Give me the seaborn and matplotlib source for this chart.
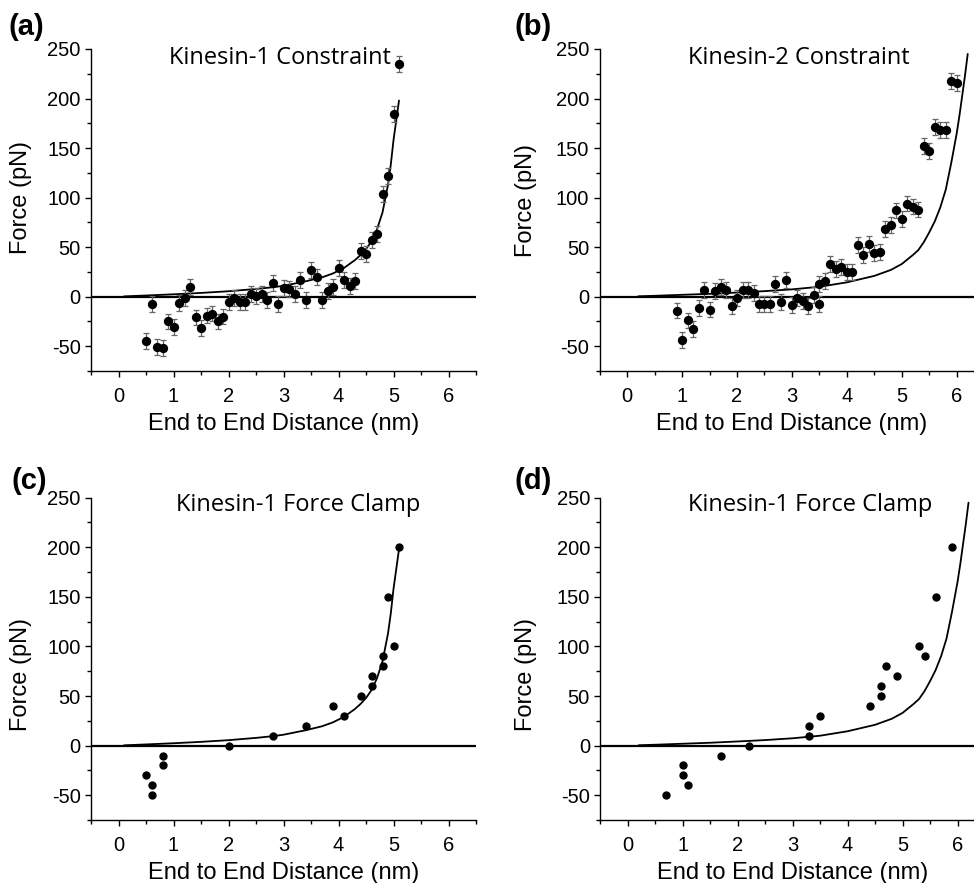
import numpy as np
import pandas as pd
import matplotlib
matplotlib.use("Agg")
import matplotlib.pyplot as plt
from matplotlib.ticker import MultipleLocator
import seaborn as sns

# === data ==================================================================
# (a) Kinesin-1 constraint
k1c_x = [0.5, 0.6, 0.7, 0.8, 0.9, 1.0, 1.1, 1.2, 1.3, 1.4, 1.5, 1.6, 1.7, 1.8, 1.9,
         2.0, 2.1, 2.2, 2.3, 2.4, 2.5, 2.6, 2.7, 2.8, 2.9, 3.0, 3.1, 3.2, 3.3, 3.4,
         3.5, 3.6, 3.7, 3.8, 3.9, 4.0, 4.1, 4.2, 4.3, 4.4, 4.5, 4.6, 4.7, 4.8, 4.9,
         5.0, 5.1]
k1c_y = [-45, -7, -51, -52, -25, -31, -6, -1, 10, -21, -32, -19, -17, -25, -20,
         -5, -1, -5, -5, 3, 1, 3, -3, 14, -7, 9, 8, 3, 17, -3,
         27, 20, -3, 6, 10, 29, 17, 11, 16, 46, 43, 57, 63, 104, 122,
         184, 235]

# (b) Kinesin-2 constraint
k2c_x = [0.9, 1.0, 1.1, 1.2, 1.3, 1.4, 1.5, 1.6, 1.7, 1.8, 1.9, 2.0, 2.1, 2.2, 2.3,
         2.4, 2.5, 2.6, 2.7, 2.8, 2.9, 3.0, 3.1, 3.2, 3.3, 3.4, 3.5, 3.5, 3.6, 3.7,
         3.8, 3.9, 4.0, 4.1, 4.2, 4.3, 4.4, 4.5, 4.6, 4.7, 4.8, 4.9, 5.0, 5.1, 5.2,
         5.3, 5.4, 5.5, 5.6, 5.7, 5.8, 5.9, 6.0]
k2c_y = [-14, -44, -24, -33, -11, 7, -13, 6, 10, 7, -9, -1, 7, 7, 4,
         -7, -7, -7, 13, -5, 17, -8, -1, -4, -9, 2, -7, 13, 16, 33,
         28, 30, 25, 25, 52, 42, 53, 44, 45, 68, 72, 87, 78, 94, 91,
         88, 152, 147, 171, 168, 168, 218, 216]
err = 8

# (c) Kinesin-1 force clamp, first set
k1f_x = [0.5, 0.6, 0.6, 0.8, 0.8, 2.0, 2.8, 3.4, 3.9, 4.1, 4.4, 4.6, 4.6, 4.8, 4.8,
         5.0, 4.9, 5.1]
k1f_y = [-30, -40, -50, -10, -20, 0, 10, 20, 40, 30, 50, 60, 70, 80, 90,
         100, 150, 200]

# (d) Kinesin-1 force clamp, second set
k1g_x = [0.7, 1.0, 1.0, 1.1, 1.7, 2.2, 3.3, 3.3, 3.5, 4.4, 4.6, 4.6, 4.7, 4.9, 5.3,
         5.4, 5.6, 5.9]
k1g_y = [-50, -20, -30, -40, -10, 0, 10, 20, 30, 40, 50, 60, 80, 70, 100,
         90, 150, 200]

# model curves
fit1_x = [0.1, 0.5, 1.0, 1.5, 2.0, 2.5, 2.8, 3.0, 3.4, 3.7, 3.9, 4.1, 4.3, 4.4,
          4.5, 4.6, 4.7, 4.8, 4.9, 4.95, 5.0, 5.05, 5.1]
fit1_y = [0.3, 1.2, 2.4, 3.8, 5.5, 7.8, 9.5, 11, 15.5, 19.5, 23.5, 29, 37, 42,
          48, 56, 68, 85, 113, 133, 158, 178, 198]
fit2_x = [0.2, 0.5, 1.0, 1.5, 2.0, 2.5, 3.0, 3.5, 4.0, 4.5, 4.8, 5.0, 5.2, 5.3,
          5.4, 5.5, 5.6, 5.7, 5.8, 5.9, 5.95, 6.0, 6.05, 6.1, 6.15, 6.2]
fit2_y = [0.4, 0.9, 1.9, 2.9, 4.2, 5.6, 7.4, 10, 14.5, 21, 27, 33, 42, 47,
          55, 65, 76, 90, 108, 135, 150, 165, 183, 203, 223, 245]

titles = ["Kinesin-1 Constraint", "Kinesin-2 Constraint",
          "Kinesin-1 Force Clamp", "Kinesin-1 Force Clamp"]
letters = ["(a)", "(b)", "(c)", "(d)"]

# === style ==================================================================
sns.set_style("ticks")
plt.rcParams['font.family'] = ['Liberation Sans', 'DejaVu Sans']
plt.rcParams['axes.linewidth'] = 1.0
plt.rcParams['axes.unicode_minus'] = False
for key in ['text.color', 'axes.labelcolor', 'xtick.color', 'ytick.color',
            'axes.edgecolor']:
    plt.rcParams[key] = 'black'

W, H = 974, 883
fig = plt.figure(figsize=(W / 100, H / 100), dpi=100)

def px_axes(left, top, right, bottom):
    return fig.add_axes([left / W, 1 - bottom / H, (right - left) / W, (bottom - top) / H])

ax_a = px_axes(91, 49, 476, 371)
ax_b = px_axes(599.7, 49, 984.2, 371)
ax_c = px_axes(91, 497.7, 476, 820)
ax_d = px_axes(600.3, 497.7, 985, 820)
axs = [ax_a, ax_b, ax_c, ax_d]

pts = [(k1c_x, k1c_y), (k2c_x, k2c_y), (k1f_x, k1f_y), (k1g_x, k1g_y)]
fits = [(fit1_x, fit1_y), (fit2_x, fit2_y), (fit1_x, fit1_y), (fit2_x, fit2_y)]
has_err = [True, True, False, False]
sizes = [45, 45, 36, 36]
ylab_pos = [(-0.153, 0.54), (-0.163, 0.53), (-0.153, 0.45), (-0.165, 0.45)]
title_pos = [(0.49, 0.972), (0.518, 0.972), (0.538, 0.977), (0.546, 0.977)]
letter_pos = [(26, 27), (533, 27), (29, 481), (533, 481)]

for i, ax in enumerate(axs):
    px, py = pts[i]
    fx, fy = fits[i]
    df_pts = pd.DataFrame({"x": px, "y": py})
    df_fit = pd.DataFrame({"x": fx, "y": fy})

    ax.axhline(0, color="black", lw=1.6, zorder=1)
    sns.lineplot(data=df_fit, x="x", y="y", ax=ax, color="black", lw=1.3,
                 estimator=None, sort=False, zorder=2)
    if has_err[i]:
        ax.errorbar(px, py, yerr=err, fmt="none", ecolor="#666666",
                    elinewidth=0.9, capsize=2.5, capthick=0.9, zorder=3)
    sns.scatterplot(data=df_pts, x="x", y="y", ax=ax, color="black", s=sizes[i],
                    linewidth=0, zorder=4)

    ax.set_xlim(-0.5, 6.5)
    ax.set_ylim(-75, 250)
    ax.xaxis.set_major_locator(MultipleLocator(1))
    ax.xaxis.set_minor_locator(MultipleLocator(0.5))
    ax.yaxis.set_major_locator(MultipleLocator(50))
    ax.yaxis.set_minor_locator(MultipleLocator(25))
    ax.tick_params(which="major", direction="out", length=4.5, width=1.0,
                   labelsize=14.5, pad=3, color="black", labelcolor="black")
    ax.tick_params(axis="x", which="major", pad=7)
    ax.tick_params(which="minor", direction="out", length=3, width=1.0, color="black")
    sns.despine(ax=ax)

    ax.set_xlabel("End to End Distance (nm)", fontsize=17, labelpad=5, color="black")
    ax.set_ylabel("Force (pN)", fontsize=17, color="black")
    ax.yaxis.set_label_coords(*ylab_pos[i])

    tx, ty = title_pos[i]
    ax.text(tx, ty, titles[i], transform=ax.transAxes, ha="center", va="center",
            fontsize=17, color="black", family=["Open Sans", "DejaVu Sans"])
    lx, ly = letter_pos[i]
    fig.text(lx / W, 1 - ly / H, letters[i], ha="center", va="center",
             fontsize=21, fontweight="bold", color="black")

fig.savefig("out.png", dpi=100)
